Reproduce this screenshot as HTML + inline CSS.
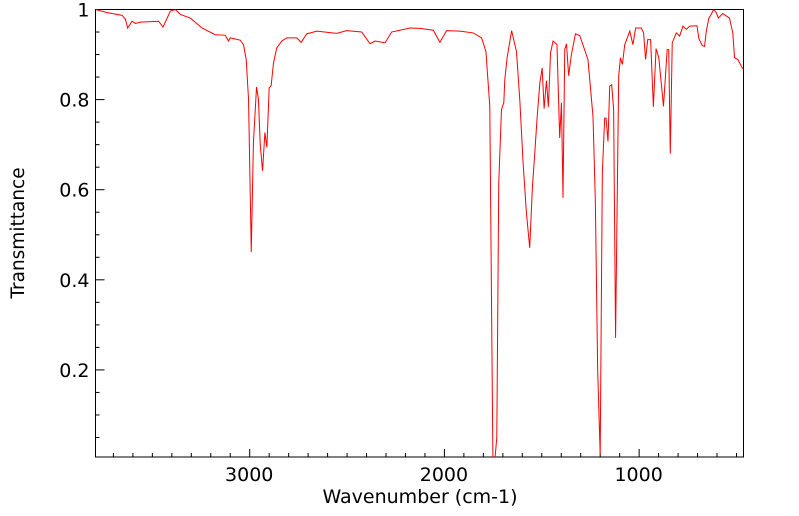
<!DOCTYPE html>
<html><head><meta charset="utf-8"><style>
html,body{margin:0;padding:0;background:#fff;}
svg{display:block;font-family:"DejaVu Sans","Liberation Sans",sans-serif;}
</style></head><body>
<svg id="chart" width="799" height="516" viewBox="0 0 799 516">
<defs><clipPath id="plotclip"><rect x="95.5" y="9.5" width="648" height="447.5"/></clipPath></defs>
<g id="axes"></g>
<path id="spectrum" fill="none" stroke="#ff0000" stroke-width="1" clip-path="url(#plotclip)"/>
<text x="420" y="503" text-anchor="middle" font-size="19">Wavenumber (cm-1)</text>
<text transform="translate(24,233) rotate(-90)" text-anchor="middle" font-size="18.5">Transmittance</text>
</svg>
<script>
const wavenumbers=[3792,3732,3655,3638,3627,3604,3587,3562,3468,3445,3408,3382,3356,3305,3245,3177,3126,3109,3100,3049,3032,3018,3006,2992,2981,2965,2955,2946,2934,2922,2912,2900,2890,2878,2861,2835,2809,2758,2736,2707,2655,2553,2502,2425,2382,2356,2305,2271,2177,2126,2057,2023,1989,1921,1852,1809,1787,1767,1751,1741,1731,1721,1707,1695,1690,1678,1655,1630,1613,1596,1579,1562,1548,1536,1524,1510,1498,1488,1476,1466,1455,1442,1422,1408,1399,1391,1382,1373,1362,1348,1327,1305,1263,1237,1225,1213,1200,1189,1177,1170,1160,1151,1141,1131,1121,1105,1096,1086,1074,1048,1032,1018,989,977,967,956,941,927,913,899,875,856,848,840,830,809,792,775,758,740,703,693,676,664,655,642,630,618,604,593,571,536,519,510,493,470,464];
const transmittance=[1.0,0.993,0.987,0.978,0.959,0.974,0.969,0.972,0.974,0.961,0.996,1.0,0.989,0.981,0.959,0.944,0.943,0.930,0.937,0.932,0.922,0.889,0.8,0.462,0.704,0.828,0.8,0.7,0.642,0.727,0.694,0.826,0.831,0.881,0.915,0.930,0.937,0.937,0.927,0.946,0.952,0.947,0.953,0.950,0.924,0.930,0.926,0.950,0.959,0.958,0.954,0.927,0.953,0.952,0.948,0.937,0.907,0.785,0.0,0.0,0.05,0.615,0.778,0.793,0.844,0.893,0.953,0.907,0.8,0.66,0.549,0.471,0.607,0.681,0.76,0.837,0.870,0.78,0.842,0.784,0.904,0.930,0.922,0.715,0.793,0.582,0.911,0.924,0.853,0.9,0.946,0.942,0.889,0.763,0.578,0.2,0.012,0.637,0.759,0.759,0.707,0.830,0.833,0.778,0.271,0.852,0.893,0.878,0.922,0.952,0.922,0.959,0.959,0.948,0.889,0.933,0.933,0.784,0.913,0.893,0.785,0.911,0.911,0.68,0.926,0.948,0.941,0.963,0.956,0.963,0.964,0.935,0.92,0.918,0.952,0.981,0.989,1.0,0.993,0.981,0.991,0.981,0.948,0.893,0.889,0.870,0.868];
const xTickValues=[3000,2000,1000];
const xTickLabels=["3000","2000","1000"];
const yTickValues=[0.2,0.4,0.6,0.8,1];
const yTickLabels=["0.2","0.4","0.6","0.8","1"];

const X0=95.5,X1=743.5,Y0=9.5,Y1=457;
const wnLeft=3792,wnRight=464,tMin=0.0067,tMax=1.0;
function xs(w){return X0+(wnLeft-w)/(wnLeft-wnRight)*(X1-X0);}
function ys(t){return Y1-(t-tMin)/(tMax-tMin)*(Y1-Y0);}
const NS="http://www.w3.org/2000/svg";
const axes=document.getElementById('axes');
function mk(tag,attrs){const e=document.createElementNS(NS,tag);for(const k in attrs)e.setAttribute(k,attrs[k]);return e;}

const frame=mk('rect',{x:X0,y:Y0,width:X1-X0,height:Y1-Y0,fill:'none',stroke:'#000','stroke-width':1});


axes.appendChild(frame);

for(let w=500;w<=3700;w+=100){
  if(w>wnLeft||w<wnRight)continue;
  const major=(w%1000===0);
  const t=mk('line',{x1:xs(w),x2:xs(w),y1:Y1,y2:Y1-(major?8:4),stroke:'#000','stroke-width':1});
  
  
  axes.appendChild(t);
}
xTickValues.forEach((v,i)=>{
  const tx=mk('text',{x:xs(v)-0.5,y:Y1+24,'text-anchor':'middle','font-size':19});
  tx.textContent=xTickLabels[i];
  
  
  axes.appendChild(tx);
});
for(let k=1;k<=20;k++){
  const v=k*0.05;
  const major=(k%4===0);
  const t=mk('line',{x1:X0,x2:X0+(major?9:4),y1:ys(v),y2:ys(v),stroke:'#000','stroke-width':1});
  
  
  axes.appendChild(t);
}
yTickValues.forEach((v,i)=>{
  const tx=mk('text',{x:X0-6,y:ys(v)+7,'text-anchor':'end','font-size':19});
  tx.textContent=yTickLabels[i];
  
  
  axes.appendChild(tx);
});

let d='';
wavenumbers.forEach((w,i)=>{d+=(i?'L':'M')+xs(w).toFixed(2)+','+ys(transmittance[i]).toFixed(2);});
document.getElementById('spectrum').setAttribute('d',d);
</script>
</body></html>
